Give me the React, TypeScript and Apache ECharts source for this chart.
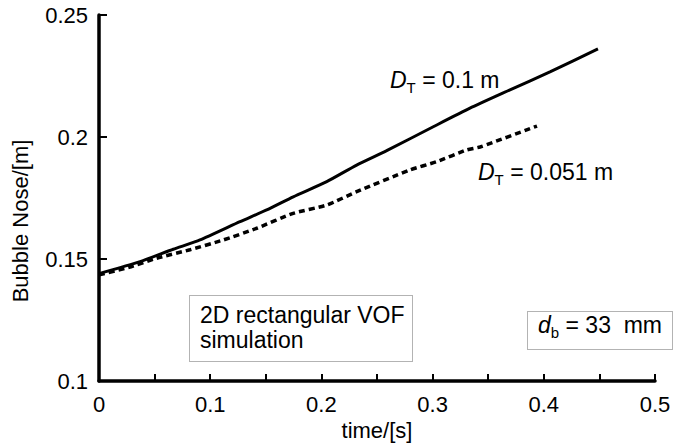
import React, { useEffect, useRef } from "react";
import * as echarts from "echarts";

const timeSolid = [0, 0.0369, 0.0668, 0.0908, 0.1268, 0.1508, 0.1747, 0.2048, 0.2317, 0.2587, 0.3006, 0.3336, 0.3696, 0.406, 0.4487];
const noseSolid = [0.144, 0.1489, 0.154, 0.1578, 0.1653, 0.1701, 0.1755, 0.1817, 0.1885, 0.1944, 0.2042, 0.2118, 0.2193, 0.2268, 0.2361];
const timeDashed = [0, 0.027, 0.0519, 0.0818, 0.1118, 0.1418, 0.1747, 0.2048, 0.2317, 0.2797, 0.3037, 0.3307, 0.3426, 0.3939];
const noseDashed = [0.1435, 0.1466, 0.1503, 0.1538, 0.1578, 0.1626, 0.1687, 0.1721, 0.1776, 0.1865, 0.1899, 0.1947, 0.1959, 0.2045];
const xTicks = [0, 0.1, 0.2, 0.3, 0.4, 0.5];
const yTicks = [0.1, 0.15, 0.2, 0.25];

const FONT = "Liberation Sans";

export default function App() {
  const ref = useRef<HTMLDivElement>(null);
  useEffect(() => {
    if (!ref.current) return;
    const chart = echarts.init(ref.current, null, { renderer: "svg" });
    const labelRich = {
      i: { fontFamily: FONT, fontSize: 23, fontStyle: "italic", color: "#000", lineHeight: 30, verticalAlign: "middle" },
      s: { fontFamily: FONT, fontSize: 15, color: "#000", lineHeight: 14, verticalAlign: "bottom" },
      n: { fontFamily: FONT, fontSize: 23, color: "#000", lineHeight: 30, verticalAlign: "middle" },
    };
    chart.setOption({
      animation: false,
      backgroundColor: "#fff",
      grid: { left: 99, right: 20, top: 15, bottom: 66 },
      xAxis: {
        type: "value",
        min: xTicks[0],
        max: xTicks[xTicks.length - 1],
        interval: 0.1,
        name: "time/[s]",
        nameLocation: "middle",
        nameGap: 36,
        nameTextStyle: { fontFamily: FONT, fontSize: 22, color: "#000" },
        axisLine: { lineStyle: { color: "#000", width: 3.5 } },
        axisTick: { inside: true, length: 7, lineStyle: { color: "#000", width: 2 } },
        minorTick: { show: true, splitNumber: 2, length: 7, lineStyle: { color: "#000", width: 2 } },
        axisLabel: {
          fontFamily: FONT, fontSize: 22, color: "#000", margin: 12,
          formatter: (v: number) => String(+v.toFixed(2)),
        },
        splitLine: { show: false },
      },
      yAxis: {
        type: "value",
        min: yTicks[0],
        max: yTicks[yTicks.length - 1],
        interval: 0.05,
        name: "Bubble Nose/[m]",
        nameLocation: "middle",
        nameGap: 68,
        nameTextStyle: { fontFamily: FONT, fontSize: 22, color: "#000", padding: [0, 46, 0, 0] },
        axisLine: { show: true, lineStyle: { color: "#000", width: 3.5 } },
        axisTick: { show: true, inside: true, length: 8, lineStyle: { color: "#000", width: 2 } },
        axisLabel: {
          fontFamily: FONT, fontSize: 22, color: "#000", margin: 11,
          formatter: (v: number) => String(+v.toFixed(2)),
        },
        splitLine: { show: false },
      },
      series: [
        {
          type: "line",
          name: "DT = 0.1 m",
          data: timeSolid.map((t, i) => [t, noseSolid[i]]),
          showSymbol: false,
          smooth: 0.2,
          lineStyle: { color: "#000", width: 3 },
        },
        {
          type: "line",
          name: "DT = 0.051 m",
          data: timeDashed.map((t, i) => [t, noseDashed[i]]),
          showSymbol: false,
          smooth: 0.2,
          lineStyle: { color: "#000", width: 3.5, type: [6, 4] },
        },
      ],
      graphic: [
        {
          type: "text",
          x: 390,
          y: 80,
          style: { rich: labelRich, text: "{i|D}{s|T}{n| = 0.1 m}", verticalAlign: "middle" },
        },
        {
          type: "text",
          x: 478,
          y: 172,
          style: { rich: labelRich, text: "{i|D}{s|T}{n| = 0.051 m}", verticalAlign: "middle" },
        },
        {
          type: "rect",
          shape: { x: 189.5, y: 295.5, width: 223, height: 66 },
          style: { fill: "#fff", stroke: "#666", lineWidth: 1, lineDash: [1, 1] },
        },
        {
          type: "text",
          x: 200,
          y: 327,
          style: {
            text: "2D rectangular VOF\nsimulation",
            fontFamily: FONT, fontSize: 23, lineHeight: 25, fill: "#000", verticalAlign: "middle",
          },
        },
        {
          type: "rect",
          shape: { x: 527.5, y: 311.5, width: 145, height: 38 },
          style: { fill: "#fff", stroke: "#666", lineWidth: 1, lineDash: [1, 1] },
        },
        {
          type: "text",
          x: 538,
          y: 325,
          style: { rich: labelRich, text: "{i|d}{s|b}{n| = 33  mm}", verticalAlign: "middle" },
        },
      ],
    });
    return () => chart.dispose();
  }, []);
  return <div ref={ref} style={{ position: "absolute", left: 0, top: 0, width: 675, height: 447 }} />;
}
